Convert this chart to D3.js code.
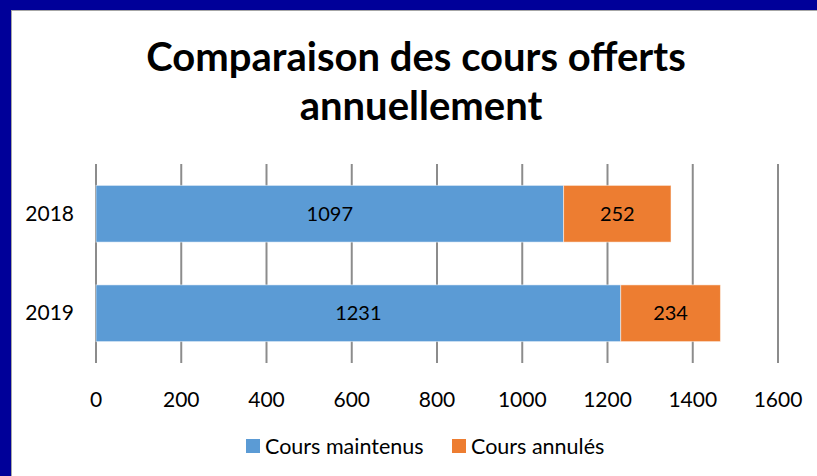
<!DOCTYPE html>
<html>
<head>
<meta charset="utf-8">
<script src="https://cdn.jsdelivr.net/npm/d3@7"></script>
<style>
  body { margin: 0; background: #000099; }
  svg { display: block; font-family: Lato, "Open Sans", sans-serif; }
</style>
</head>
<body>
<svg id="chart" width="817" height="476"></svg>
<script>
// values
const years = ["2018", "2019"];
const maintenus = [1097, 1231];
const annules = [252, 234];
const seriesNames = ["Cours maintenus", "Cours annulés"];
const colors = ["#5B9BD5", "#ED7D31"];
const xTicks = [0, 200, 400, 600, 800, 1000, 1200, 1400, 1600];

const svg = d3.select("#chart");

// navy frame with white panel
svg.append("rect").attr("width", 817).attr("height", 476).attr("fill", "#000099");
svg.append("rect")
  .attr("x", 11.5).attr("y", 10.5)
  .attr("width", 820).attr("height", 480)
  .attr("fill", "#fff").attr("stroke", "#a6a6a6");

// title
const title = svg.append("text")
  .attr("text-anchor", "middle")
  .attr("font-weight", "bold")
  .attr("font-size", 40)
  .attr("fill", "#000");
title.append("tspan").attr("x", 416).attr("y", 71).text("Comparaison des cours offerts");
title.append("tspan").attr("x", 421).attr("y", 120).text("annuellement");

const x = d3.scaleLinear().domain([0, 1600]).range([96, 778]);
const y = d3.scaleBand().domain(years).range([164, 363]).paddingInner(0.43).paddingOuter(0.215);

// gridlines
svg.append("g")
  .selectAll("line")
  .data(xTicks)
  .enter()
  .append("line")
  .attr("x1", d => x(d)).attr("x2", d => x(d))
  .attr("y1", 164).attr("y2", 363)
  .attr("stroke", "#8c8c8c")
  .attr("stroke-width", 2);

// x axis labels
svg.append("g")
  .selectAll("text")
  .data(xTicks)
  .enter()
  .append("text")
  .attr("x", d => x(d))
  .attr("y", 407)
  .attr("text-anchor", "middle")
  .attr("font-size", 21)
  .text(d => d);

// y labels
svg.append("g")
  .selectAll("text")
  .data(years)
  .enter()
  .append("text")
  .attr("x", 74)
  .attr("y", d => y(d) + y.bandwidth() / 2 + 7)
  .attr("text-anchor", "end")
  .attr("font-size", 21)
  .text(d => d);

// stacked bars
const rows = years.map((yr, i) => ({ year: yr, values: [maintenus[i], annules[i]] }));
const stack = [];
rows.forEach(r => {
  let acc = 0;
  r.values.forEach((v, k) => {
    stack.push({ year: r.year, k, x0: acc, x1: acc + v, v });
    acc += v;
  });
});

svg.append("g")
  .selectAll("rect")
  .data(stack)
  .enter()
  .append("rect")
  .attr("x", d => x(d.x0))
  .attr("y", d => y(d.year))
  .attr("width", d => x(d.x1) - x(d.x0))
  .attr("height", y.bandwidth())
  .attr("fill", d => colors[d.k])
  .attr("stroke", "#fff")
  .attr("stroke-opacity", 0.5)
  .attr("stroke-width", 1);

svg.append("g")
  .selectAll("text")
  .data(stack)
  .enter()
  .append("text")
  .attr("x", d => (x(d.x0) + x(d.x1)) / 2)
  .attr("y", d => y(d.year) + y.bandwidth() / 2 + 7)
  .attr("text-anchor", "middle")
  .attr("font-size", 20)
  .text(d => d.v);

// legend
const legend = svg.append("g");
const legendX = [246, 452];
seriesNames.forEach((name, i) => {
  legend.append("rect")
    .attr("x", legendX[i]).attr("y", 439)
    .attr("width", 14).attr("height", 14)
    .attr("fill", colors[i]);
  legend.append("text")
    .attr("x", legendX[i] + 19).attr("y", 454)
    .attr("font-size", 21.5)
    .text(name);
});
</script>
</body>
</html>
